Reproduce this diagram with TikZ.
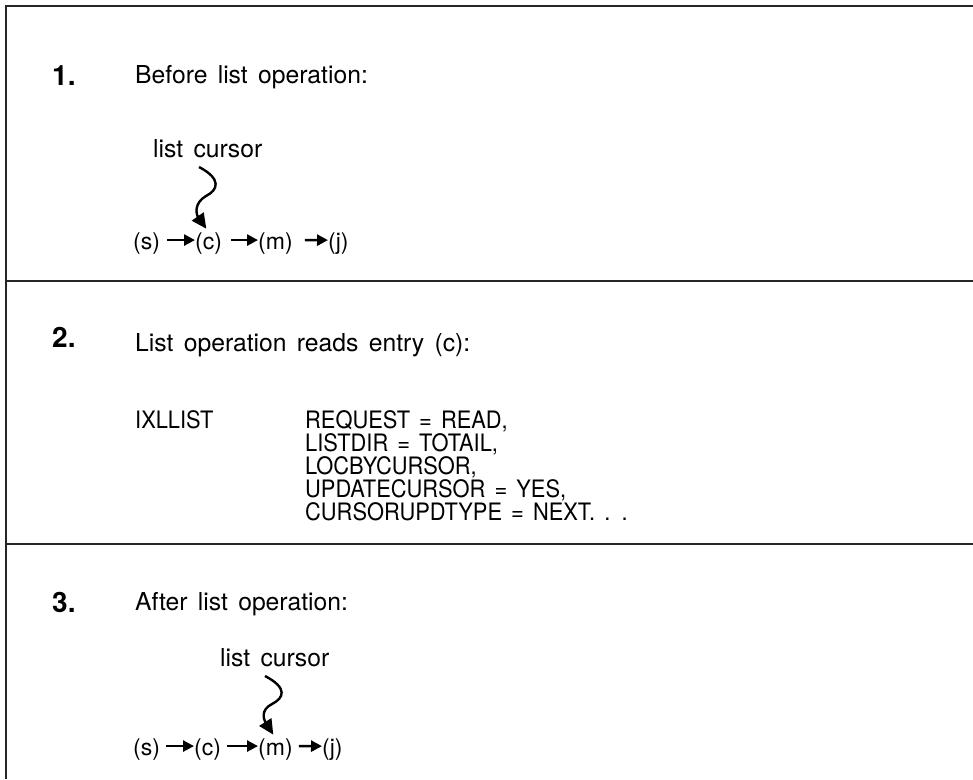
\documentclass[tikz,border=0pt]{standalone}
\usepackage{fontspec}
\setmainfont[WordSpace=1.5]{TeX Gyre Heros}
\newfontfamily\codefont[FakeStretch=0.91,WordSpace=1.5]{TeX Gyre Heros}
\usetikzlibrary{arrows.meta}
\begin{document}
\begin{tikzpicture}[x=1pt,y=-1pt,
  frame/.style={line width=2.6pt, draw=black!85},
  txt/.style={anchor=base west, inner sep=0, font=\fontsize{24.7}{28}\selectfont},
  item/.style={anchor=base west, inner sep=0, font=\fontsize{23}{27}\selectfont},
  num/.style={anchor=base west, inner sep=0, font=\fontsize{28}{32}\selectfont\bfseries},
  code/.style={anchor=base west, inner sep=0, font=\fontsize{24}{28}\selectfont\codefont},
  link/.style={line width=2.6pt, -{Triangle[length=11pt,width=11pt]}},
  squig/.style={line width=2.4pt, -{Triangle[length=15pt,width=14pt]}}]
\useasboundingbox (0,0) rectangle (973,779);
% frame
\draw[frame] (973,6) -- (6,6) -- (6,779);
\draw[frame] (6,281) -- (973,281);
\draw[frame] (6,544) -- (973,544);
% section 1
\node[num] (n1) at (52,85) {1.};
\node[txt] (t1) at (135,83) {Before list operation:};
\node[txt] (cur1) at (153,157) {list cursor};
\coordinate (q1) at (199,167);
\node[item] (s1) at (133,249) {(s)};
\node[item] (c1) at (195,249) {(c)};
\node[item] (m1) at (258,249) {(m)};
\node[item] (j1) at (328,249) {(j)};
\draw[link, shorten <=7pt] ([yshift=3pt]s1.east) -- ([yshift=3pt]c1.west);
\draw[link, shorten <=9pt] ([yshift=3pt]c1.east) -- ([yshift=3pt]m1.west);
\draw[link, shorten <=12pt] ([yshift=3pt]m1.east) -- ([yshift=3pt]j1.west);
\draw[squig, shorten >=4pt] (q1) .. controls (222,179) and (218,190) .. (206,196)
  .. controls (194,203) and (196,214) .. (c1.north);
% section 2
\node[num] (n2) at (52,347) {2.};
\node[txt] (t2) at (135,351) {List operation reads entry (c):};
\node[code] (ix) at (135,428) {IXLLIST};
\node[code] (p1) at (305,428) {REQUEST = READ,};
\node[code] (p2) at (305,451) {LISTDIR = TOTAIL,};
\node[code] (p3) at (305,474) {LOCBYCURSOR,};
\node[code] (p4) at (305,497) {UPDATECURSOR = YES,};
\node[code] (p5) at (305,520) {CURSORUPDTYPE = NEXT. . .};
% section 3
\node[num] (n3) at (52,612) {3.};
\node[txt] (t3) at (135,610) {After list operation:};
\node[txt] (cur3) at (220,666) {list cursor};
\coordinate (q3) at (265,676);
\node[item] (s3) at (133,755) {(s)};
\node[item] (c3) at (194,755) {(c)};
\node[item] (m3) at (258,755) {(m)};
\node[item] (j3) at (322,755) {(j)};
\draw[link, shorten <=6pt] ([yshift=3pt]s3.east) -- ([yshift=3pt]c3.west);
\draw[link, shorten <=6pt] ([yshift=3pt]c3.east) -- ([yshift=3pt]m3.west);
\draw[link, shorten <=6pt] ([yshift=3pt]m3.east) -- ([yshift=3pt]j3.west);
\draw[squig, shorten >=4pt] (q3) .. controls (288,688) and (284,698) .. (272,704)
  .. controls (260,710) and (264,720) .. (m3.north);
\end{tikzpicture}
\end{document}
